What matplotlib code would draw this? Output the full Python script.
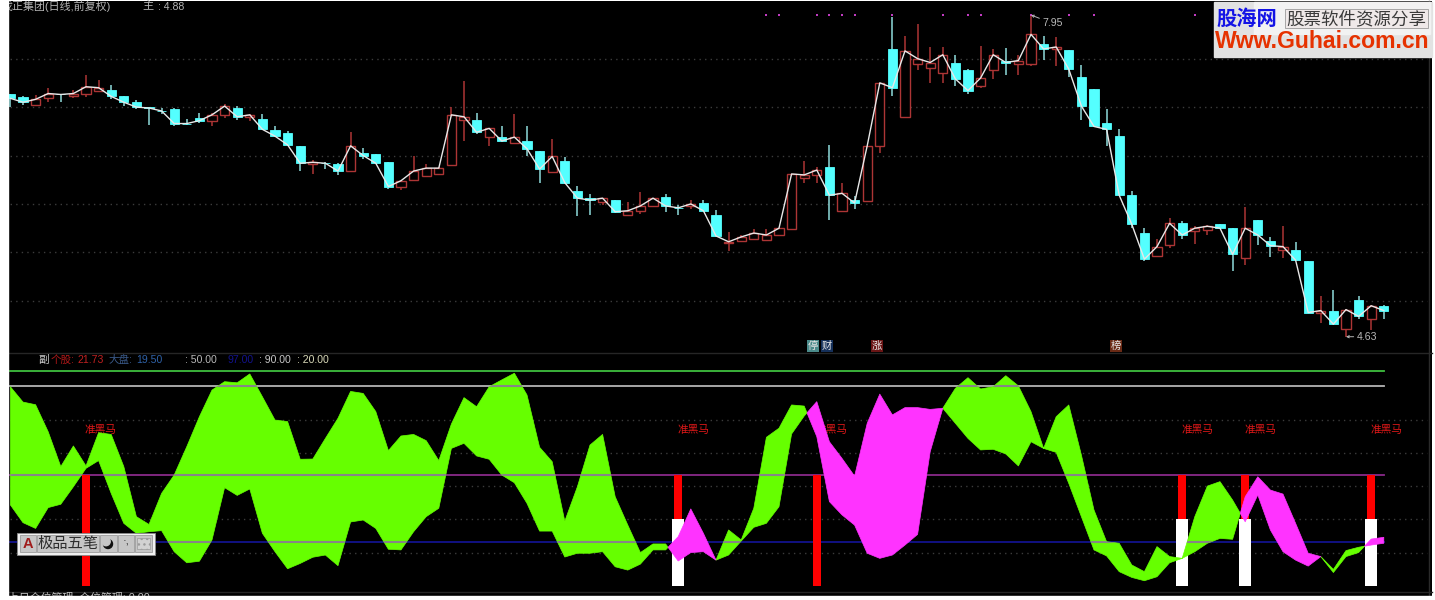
import numpy as np
import matplotlib
matplotlib.use("Agg")
import matplotlib.pyplot as plt
from matplotlib.patches import Rectangle, Circle, PathPatch

plt.rcParams['font.family'] = ['Liberation Sans', 'Noto Sans CJK SC']

# Daily candles
opens = [7.14, 7.10, 7.02, 7.09, 7.13, 7.11, 7.13, 7.17, 7.18, 7.11,
         7.05, 7.00, 6.96, 6.98, 6.83, 6.89, 6.86, 6.92, 6.99, 6.90,
         6.88, 6.76, 6.73, 6.60, 6.41, 6.42, 6.41, 6.34, 6.53, 6.52,
         6.43, 6.18, 6.25, 6.29, 6.31, 6.40, 6.87, 6.87, 6.69, 6.69,
         6.63, 6.65, 6.55, 6.33, 6.44, 6.13, 6.06, 6.02, 6.04, 5.89,
         5.93, 5.98, 6.07, 5.96, 5.98, 6.01, 5.89, 5.60, 5.62, 5.64,
         5.63, 5.68, 5.74, 6.27, 6.30, 6.38, 5.93, 6.04, 6.03, 6.60,
         7.60, 6.90, 7.44, 7.40, 7.35, 7.46, 7.38, 7.22, 7.38, 7.48,
         7.44, 7.44, 7.65, 7.60, 7.59, 7.31, 7.19, 6.84, 6.70, 6.09,
         5.70, 5.46, 5.58, 5.80, 5.72, 5.73, 5.79, 5.75, 5.44, 5.83,
         5.62, 5.53, 5.52, 5.41, 4.88, 4.90, 4.71, 5.01, 4.81, 4.95]
highs = [7.14, 7.11, 7.12, 7.20, 7.14, 7.18, 7.33, 7.28, 7.23, 7.11,
         7.07, 7.00, 6.99, 6.99, 6.88, 6.94, 6.94, 7.03, 7.01, 6.93,
         6.93, 6.80, 6.75, 6.60, 6.45, 6.43, 6.42, 6.74, 6.58, 6.52,
         6.43, 6.25, 6.49, 6.41, 6.38, 7.00, 7.27, 6.94, 6.78, 6.80,
         6.93, 6.80, 6.55, 6.67, 6.48, 6.19, 6.10, 6.06, 6.04, 6.02,
         6.12, 6.06, 6.10, 5.99, 6.04, 6.04, 5.94, 5.71, 5.68, 5.74,
         5.74, 5.75, 6.31, 6.44, 6.38, 6.61, 6.22, 6.08, 6.60, 7.25,
         7.93, 7.73, 7.86, 7.62, 7.62, 7.54, 7.39, 7.63, 7.60, 7.61,
         7.54, 7.95, 7.73, 7.72, 7.59, 7.43, 7.19, 6.98, 6.77, 6.13,
         5.75, 5.64, 5.86, 5.82, 5.77, 5.78, 5.79, 5.75, 5.97, 5.83,
         5.66, 5.77, 5.61, 5.41, 5.05, 5.11, 4.92, 5.05, 4.96, 4.96]
lows = [7.00, 7.02, 7.02, 7.05, 7.05, 7.09, 7.10, 7.17, 7.08, 7.01,
        6.98, 6.82, 6.93, 6.80, 6.82, 6.84, 6.80, 6.89, 6.87, 6.86,
        6.76, 6.69, 6.60, 6.34, 6.31, 6.36, 6.30, 6.34, 6.46, 6.41,
        6.15, 6.14, 6.25, 6.29, 6.31, 6.40, 6.65, 6.72, 6.60, 6.64,
        6.63, 6.49, 6.22, 6.33, 6.21, 5.88, 5.89, 5.99, 5.91, 5.89,
        5.90, 5.98, 5.92, 5.89, 5.95, 5.93, 5.66, 5.51, 5.62, 5.64,
        5.63, 5.68, 5.74, 6.22, 6.22, 5.83, 5.93, 5.95, 6.03, 6.53,
        7.11, 6.90, 7.38, 7.25, 7.25, 7.22, 7.13, 7.20, 7.29, 7.33,
        7.33, 7.42, 7.49, 7.42, 7.31, 6.87, 6.79, 6.60, 6.09, 5.75,
        5.41, 5.46, 5.55, 5.64, 5.59, 5.68, 5.75, 5.31, 5.37, 5.58,
        5.45, 5.44, 5.42, 4.88, 4.77, 4.75, 4.63, 4.81, 4.70, 4.81]
closes = [7.09, 7.05, 7.08, 7.14, 7.13, 7.14, 7.21, 7.20, 7.11, 7.05,
          7.00, 6.99, 6.96, 6.83, 6.83, 6.86, 6.92, 7.01, 6.90, 6.92,
          6.77, 6.70, 6.61, 6.42, 6.43, 6.42, 6.34, 6.60, 6.50, 6.42,
          6.18, 6.24, 6.34, 6.37, 6.37, 6.92, 6.90, 6.74, 6.78, 6.65,
          6.69, 6.57, 6.36, 6.49, 6.22, 6.06, 6.04, 6.06, 5.92, 5.93,
          5.98, 6.06, 5.98, 5.96, 6.00, 5.93, 5.67, 5.61, 5.66, 5.70,
          5.68, 5.75, 6.31, 6.30, 6.35, 6.09, 6.11, 6.01, 6.60, 7.25,
          7.20, 7.58, 7.50, 7.46, 7.54, 7.29, 7.17, 7.30, 7.54, 7.46,
          7.48, 7.75, 7.60, 7.62, 7.39, 7.01, 6.80, 6.77, 6.09, 5.79,
          5.43, 5.56, 5.80, 5.68, 5.75, 5.77, 5.75, 5.48, 5.75, 5.68,
          5.57, 5.56, 5.42, 4.88, 4.90, 4.76, 4.91, 4.84, 4.95, 4.90]
signal_days = [60, 61, 64, 65, 66, 67, 70, 74, 76, 77, 81, 84, 86, 94]
price_grid = [7.5, 7.0, 6.5, 6.0, 5.5, 5.0]
high_label = "7.95"
low_label = "4.63"

# Lower indicator: the fast and slow lines of the band
fast = [89.8, 82.9, 81.7, 69.5, 53.8, 63.1, 54.1, 69.1, 68.3, 53.8,
        31.2, 27.7, 41.7, 50.0, 62.8, 76.3, 88.3, 92.1, 91.6, 95.6,
        85.3, 74.8, 74.1, 57.1, 57.2, 66.5, 75.6, 87.7, 86.8, 78.6,
        61.0, 67.6, 68.3, 65.5, 56.5, 73.0, 84.9, 80.8, 89.8, 92.9,
        95.9, 86.1, 62.5, 56.0, 29.2, 44.7, 63.5, 68.3, 40.2, 27.4,
        15.0, 18.9, 18.9, 11.2, 15.0, 15.4, 11.6, 25.2, 20.7, 35.0,
        67.0, 71.1, 81.6, 81.1, 67.3, 38.0, 32.0, 27.4, 14.7, 12.4,
        13.9, 18.4, 23.2, 60.5, 80.1, 89.1, 93.9, 88.8, 89.8, 94.8,
        90.2, 78.6, 62.0, 76.3, 81.6, 59.0, 34.2, 19.9, 19.2, 9.4,
        6.4, 17.7, 13.2, 12.4, 31.2, 45.0, 47.0, 38.7, 28.9, 41.0,
        25.2, 15.4, 11.6, 8.9, 13.2, 7.4, 15.9, 17.4, 18.4, 19.2]
slow = [36.5, 28.5, 25.9, 35.3, 36.8, 44.7, 53.0, 56.5, 41.7, 28.2,
        23.7, 24.4, 24.9, 15.4, 10.4, 11.1, 20.7, 44.3, 40.8, 43.7,
        23.7, 15.4, 7.7, 10.1, 12.9, 13.9, 9.1, 28.8, 29.7, 25.9,
        16.5, 16.2, 24.4, 31.2, 35.0, 62.0, 64.3, 58.6, 57.1, 50.0,
        46.5, 37.2, 24.7, 24.7, 13.0, 14.7, 14.7, 15.4, 8.6, 7.1,
        9.8, 16.2, 16.2, 22.2, 34.7, 23.7, 11.6, 13.9, 20.2, 26.4,
        28.2, 35.7, 68.5, 76.6, 83.1, 65.0, 57.5, 49.5, 73.3, 86.5,
        77.1, 80.4, 80.4, 79.6, 80.1, 73.3, 66.5, 61.3, 61.6, 59.5,
        54.1, 65.0, 62.0, 60.2, 46.2, 31.2, 16.2, 13.5, 6.4, 3.8,
        2.3, 4.1, 10.4, 12.4, 15.4, 19.2, 21.4, 21.0, 40.2, 49.2,
        43.2, 41.4, 28.2, 14.7, 13.2, 6.0, 13.2, 15.0, 21.1, 21.9]
horse_days = [6, 53, 64, 93, 98, 108]
white_days = [53, 93, 98, 108]
horse_top = 50
white_top = 30
horse_label_level = 70.3
levels = [97, 90, 50, 20]
level_colors = ['#3fbf3f', '#b4b4b4', '#8a2a8a', '#12128c']
indicator_grid = [75, 60, 45, 30, 15]

W, H = 1435, 600
RED_EDGE = '#ad3535'
CYAN = '#54ffff'


def px_axes(left, top, right, bottom, **kw):
    return fig.add_axes([left / W, 1 - bottom / H, (right - left) / W, (bottom - top) / H], **kw)


fig = plt.figure(figsize=(W / 100, H / 100), dpi=100, facecolor='white')

# ---- price panel ----
ax = px_axes(8, 1, 1432, 352, facecolor='black')
days = np.arange(len(closes))
o, h, l, c = map(np.array, (opens, highs, lows, closes))
up = c > o
down = ~up

for level in price_grid:
    ax.hlines(level, -1, 112.4, color='#3c3c3c', lw=1, ls=(0, (1, 3)))

ax.vlines(days[up], l[up], h[up], color=RED_EDGE, lw=1.1)
ax.vlines(days[down], l[down], h[down], color='#8fdcdc', lw=1.1)
ax.bar(days[down], (o - c)[down], bottom=c[down], width=0.72, color=CYAN, edgecolor=CYAN, lw=0.6, zorder=3)
ax.bar(days[up], (c - o)[up], bottom=o[up], width=0.72, color='black', edgecolor=RED_EDGE, lw=1, zorder=3)
ax.plot(days, c, color='#e8e8e8', lw=1, zorder=4)

ax.scatter(signal_days, [highs[81]] * len(signal_days), marker='s', s=4, color='#c23cc2', lw=0, zorder=5)
ax.annotate(high_label, xy=(81, h[81]), xytext=(8, -6), textcoords='offset points', color='#b8b8b8', fontsize=7.6,
            va='center', arrowprops=dict(arrowstyle='->', color='#b8b8b8', lw=0.7, shrinkA=0, shrinkB=0, mutation_scale=4), zorder=6)
ax.annotate(low_label, xy=(106, l[106]), xytext=(7.5, 0), textcoords='offset points', color='#b8b8b8', fontsize=7.6,
            va='center', arrowprops=dict(arrowstyle='->', color='#b8b8b8', lw=0.7, shrinkA=0, shrinkB=0, mutation_scale=4), zorder=6)

ax.set_xlim((8 - 10.4) / 12.6, (1432 - 10.4) / 12.6)
ax.set_ylim(8.105 - 0.01032 * 352, 8.105 - 0.01032 * 1)
ax.axis('off')
ax.add_patch(Rectangle((0, 0), 1, 1, transform=ax.transAxes, color='black', zorder=-5))

# ---- indicator panel ----
ax2 = px_axes(8, 352, 1432, 596, facecolor='black')
fast_a, slow_a = np.array(fast), np.array(slow)
days2 = np.arange(len(fast))

for level in indicator_grid:
    ax2.hlines(level, -1, 112.4, color='#3c3c3c', lw=1, ls=(0, (1, 3)))
for level, col in zip(levels, level_colors):
    ax2.plot([days2[0], days2[-1]], [level, level], color=col, lw=1.3, zorder=2)

ax2.bar(horse_days, horse_top, width=0.66, color='#ff0000', lw=0, zorder=3)
ax2.bar(white_days, white_top, width=0.92, color='white', lw=0, zorder=3.5)
for d in horse_days:
    ax2.text(d - 0.08, horse_label_level, "准黑马", color='#e01818', fontsize=7.7, va='center', ha='left', zorder=3)

green = ax2.fill_between(days2, fast_a, slow_a, where=fast_a >= slow_a, interpolate=True,
                         facecolor='#66ff00', edgecolor='#66ff00', lw=0.5, zorder=4)
pink = ax2.fill_between(days2, fast_a, slow_a, where=fast_a <= slow_a, interpolate=True,
                        facecolor='#ff33ff', edgecolor='#ff33ff', lw=0.5, zorder=4.2)

# level lines show grey where they cross the green band
for level in levels[1:]:
    for path in green.get_paths():
        clip = PathPatch(path, transform=ax2.transData)
        seg, = ax2.plot([days2[0], days2[-1]], [level, level], color='#868686', lw=1.5, zorder=4.1)
        seg.set_clip_path(clip)

ax2.set_xlim((8 - 10.4) / 12.6, (1432 - 10.4) / 12.6)
ax2.set_ylim(50 + (475 - 596) / 2.2167, 50 + (475 - 352) / 2.2167)
ax2.axis('off')
ax2.add_patch(Rectangle((0, 0), 1, 1, transform=ax2.transAxes, color='black', zorder=-5))

# ---- window furniture, drawn in pixels ----
ov = fig.add_axes([0, 0, 1, 1], facecolor='none', zorder=10)
ov.set_xlim(0, W)
ov.set_ylim(H, 0)
ov.axis('off')

for y in (352.5, 591.5):
    ov.plot([8, 1432], [y, y], color='#262626', lw=1)
ov.plot([1428.5, 1428.5], [1, 596], color='#2a2a2a', lw=1)

ov.text(2, 6.5, "戊正集团(日线,前复权)", color='#b4b4b4', fontsize=7.9, va='center', zorder=2)
ov.text(142, 6.5, "主", color='#b4b4b4', fontsize=8, va='center')
ov.text(158, 6.5, ": 4.88", color='#b4b4b4', fontsize=7.6, va='center')

legend_items = [(38, "副", '#cfcfcf'), (51, "个股:", '#b01818'), (78, "21.73", '#c02020'),
                (109, "大盘:", '#3a5a8a'), (136, "19.50", '#2f62a8'), (185, ": 50.00", '#b8b8b8'),
                (227, "97.00", '#12128c'), (259, ": 90.00", '#c8c8c8'), (297, ": 20.00", '#d8d8b8')]
for x, txt, col in legend_items:
    ov.text(x, 360, txt, color=col, fontsize=7.6, va='center')

for x, txt, bg in [(813, "停", '#4a8a8a'), (827, "财", '#15305a'), (877, "涨", '#6a1515'), (1116, "榜", '#6a2a15')]:
    ov.text(x, 346, txt, color='#e8e8e8', fontsize=7.4, ha='center', va='center',
            bbox=dict(boxstyle='square,pad=0.08', fc=bg, ec='none'))

# bottom status line, cut off by the picture edge
ov.text(8, 598, "上日仓位管理  仓位管理: 0.00", color='#c0c0c0', fontsize=7.8, va='center', zorder=2)
ov.add_patch(Rectangle((0, 596), W, 4, color='white', zorder=3))
ov.add_patch(Rectangle((0, 0), 8, H, color='white', zorder=3))

# watermark
ov.add_patch(Rectangle((1214, 2), 218, 55, color='#e2e2e2', zorder=5))
ov.add_patch(Rectangle((1254, 2), 176, 32, color='#f2f2f2', zorder=5))
ov.text(1247, 18.5, "股海网", color='#1414e6', fontsize=14.6, fontweight='bold', ha='center', va='center', zorder=6)
ov.add_patch(Rectangle((1285, 9), 143, 19, fc='#efe9e9', ec='#9a9a9a', lw=0.6, zorder=5.5))
ov.text(1356.5, 18.5, "股票软件资源分享", color='#3a3a3a', fontsize=12.6, ha='center', va='center', zorder=6)
ov.text(1322.5, 42, "Www.Guhai.com.cn", color='#e63200', fontsize=16.6, fontweight='bold', ha='center', va='center', zorder=6)

# input method toolbar
ov.add_patch(Rectangle((17, 533), 138, 22, fc='#f0f0f0', ec='#8a8a8a', lw=0.6, zorder=5))
for x, w in [(20, 16), (37, 62), (100, 17), (118, 16), (135, 17)]:
    ov.add_patch(Rectangle((x, 535), w, 17, fc='#c6c6c6', ec='#8e8e8e', lw=0.5, zorder=5.5))
ov.text(28, 544, "A", color='#a01c1c', fontsize=10.5, fontweight='bold', ha='center', va='center', zorder=6)
ov.text(68, 544, "极品五笔", color='#2e2e2e', fontsize=11, ha='center', va='center', zorder=6)
ov.add_patch(Circle((108, 544), 4.5, color='#101010', zorder=6))
ov.add_patch(Circle((106, 541.5), 4.2, color='#c6c6c6', zorder=6.1))
ov.text(126, 541, "·,", color='#222222', fontsize=8, ha='center', va='center', zorder=6)
ov.add_patch(Rectangle((137, 538), 13, 11, fc='#d2d2d2', ec='#9a9a9a', lw=0.5, hatch='...', zorder=6))

fig.savefig("out.png", dpi=100, facecolor='white')
